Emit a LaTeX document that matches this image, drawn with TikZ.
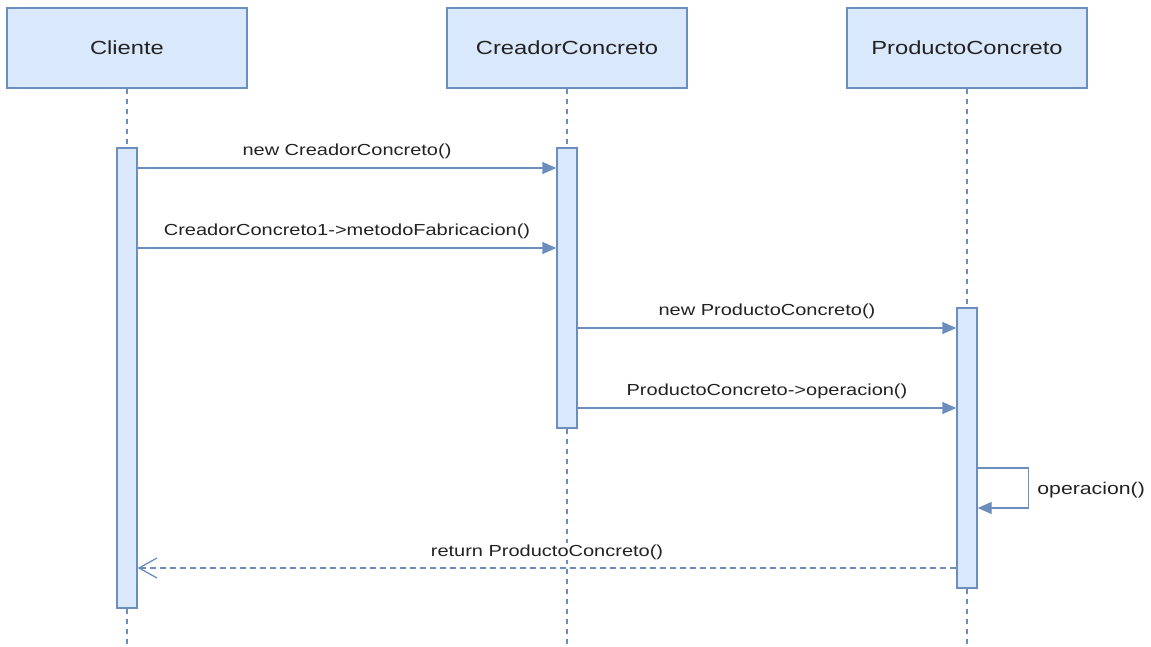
\documentclass[tikz,border=0pt]{standalone}
\usepackage{fontspec}
\setmainfont{Liberation Sans}[FakeStretch=1.25]
\usetikzlibrary{arrows.meta,calc}
\definecolor{lineblue}{HTML}{6C8EBF}
\definecolor{fillblue}{HTML}{DAE8FC}
\definecolor{txt}{HTML}{222222}
\tikzset{
  participant/.style={draw=lineblue, fill=fillblue, line width=1.4pt, minimum width=240pt, minimum height=80pt, inner sep=0pt, font=\fontsize{19}{22}\selectfont, text=txt},
  activation/.style={draw=lineblue, fill=fillblue, line width=1.4pt, minimum width=20pt, inner sep=0pt},
  lifeline/.style={draw=lineblue, line width=1.3pt, dash pattern=on 5pt off 5pt},
  msg/.style={draw=lineblue, line width=1.4pt, -{Triangle[length=14pt,width=12pt]}},
  reply/.style={draw=lineblue, line width=1.3pt, dash pattern=on 6pt off 4pt, -{Straight Barb[length=18pt,width=20pt,line width=1.3pt]}},
  lbl/.style={font=\fontsize{16}{18}\selectfont, text=txt, fill=white, inner sep=1pt},
  selflbl/.style={font=\fontsize{17}{20}\selectfont, text=txt, inner sep=1pt},
}
\begin{document}
\begin{tikzpicture}[x=1pt,y=-1pt]
\useasboundingbox (0,0) rectangle (1151,646);

% participants
\node[participant] (cli) at (127,48) {Cliente};
\node[participant] (cre) at (567,48) {CreadorConcreto};
\node[participant] (pro) at (967,48) {ProductoConcreto};

% lifelines
\coordinate (cliEnd) at (127,646);
\coordinate (creEnd) at (567,646);
\coordinate (proEnd) at (967,646);
\draw[lifeline] (cli.south) -- (cliEnd);
\draw[lifeline] (cre.south) -- (creEnd);
\draw[lifeline] (pro.south) -- (proEnd);

% activation bars
\node[activation, minimum height=460pt] (aCli) at (127,378) {};
\node[activation, minimum height=280pt] (aCre) at (567,288) {};
\node[activation, minimum height=280pt] (aPro) at (967,448) {};

% messages
\draw[msg] (aCli.east |- 0,168) -- (aCre.west |- 0,168)
  node[lbl, midway, above=7pt] {new CreadorConcreto()};
\draw[msg] (aCli.east |- 0,248) -- (aCre.west |- 0,248)
  node[lbl, midway, above=7pt] {CreadorConcreto1->metodoFabricacion()};
\draw[msg] (aCre.east |- 0,328) -- (aPro.west |- 0,328)
  node[lbl, midway, above=7pt] {new ProductoConcreto()};
\draw[msg] (aCre.east |- 0,408) -- (aPro.west |- 0,408)
  node[lbl, midway, above=7pt] {ProductoConcreto->operacion()};

% self call
\draw[msg] (aPro.east |- 0,468) -- ++(51,0) -- ++(0,40)
  node[selflbl, right=7pt, pos=0.55] {operacion()}
  -- (aPro.east |- 0,508);

% return
\draw[reply] (aPro.west |- 0,568) -- (aCli.east |- 0,568)
  node[lbl, midway, above=7pt] {return ProductoConcreto()};
\end{tikzpicture}
\end{document}
